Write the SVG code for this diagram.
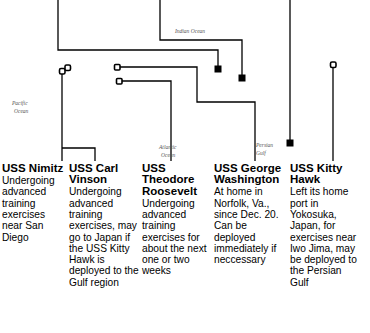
<svg xmlns="http://www.w3.org/2000/svg" width="370" height="333" viewBox="0 0 370 333">
<style>
.ln{fill:none;stroke:#000;stroke-width:1.3}
.op{fill:#fff;stroke:#000;stroke-width:1.6}
.fl{fill:#000}
.lb{font-family:"Liberation Serif",serif;font-style:italic;font-size:5.5px;fill:#555}
.t{font-family:"Liberation Sans",Arial,sans-serif;font-weight:bold;font-size:11.5px;fill:#000}
.b{font-family:"Liberation Sans",Arial,sans-serif;font-size:10.2px;fill:#000}
</style>
<rect width="370" height="333" fill="#fff"/>
<g id="connectors">
<path class="ln" d="M58,0 V50 H218 V66"/>
<path class="ln" d="M160,0 V40 H242 V75"/>
<path class="ln" d="M290,0 V140"/>
<path class="ln" d="M62,74 V161"/>
<path class="ln" d="M62,148 H95 V161"/>
<path class="ln" d="M122,81 H171 V161"/>
<path class="ln" d="M120,67 H197 V102 H255 V161"/>
<path class="ln" d="M333,68 V161"/>
</g>
<g id="markers">
<rect class="fl" x="214.5" y="65.5" width="7" height="7"/>
<rect class="fl" x="238.5" y="74.5" width="7" height="7"/>
<rect class="fl" x="286.5" y="139.5" width="7" height="7"/>
<rect class="op" x="59.5" y="68.5" width="5.5" height="5.5" rx="1.5"/>
<rect class="op" x="65" y="65" width="5.5" height="5.5" rx="1.5"/>
<rect class="op" x="114.5" y="64.5" width="5.5" height="5.5" rx="1"/>
<rect class="op" x="116.5" y="78.5" width="5.5" height="5.5" rx="1"/>
<rect class="op" x="330.5" y="62" width="5.5" height="5.5" rx="1.5"/>
</g>
<g id="labels">
<text class="lb" x="175" y="33">Indian Ocean</text>
<text class="lb" x="12" y="105">Pacific</text>
<text class="lb" x="14" y="113">Ocean</text>
<text class="lb" x="159" y="149">Atlantic</text>
<text class="lb" x="161" y="157">Ocean</text>
<text class="lb" x="256" y="147">Persian</text>
<text class="lb" x="256" y="155">Gulf</text>
</g>
<g id="nimitz">
<text class="t" x="2" y="172">USS Nimitz</text>
<text class="b" x="2" y="184">Undergoing</text>
<text class="b" x="2" y="195.3">advanced</text>
<text class="b" x="2" y="206.6">training</text>
<text class="b" x="2" y="217.9">exercises</text>
<text class="b" x="2" y="229.2">near San</text>
<text class="b" x="2" y="240.5">Diego</text>
</g>
<g id="vinson">
<text class="t" x="69" y="172">USS Carl</text>
<text class="t" x="69" y="183.3">Vinson</text>
<text class="b" x="69" y="195.3">Undergoing</text>
<text class="b" x="69" y="206.6">advanced</text>
<text class="b" x="69" y="217.9">training</text>
<text class="b" x="69" y="229.2">exercises, may</text>
<text class="b" x="69" y="240.5">go to Japan if</text>
<text class="b" x="69" y="251.8">the USS Kitty</text>
<text class="b" x="69" y="263.1">Hawk is</text>
<text class="b" x="69" y="274.4">deployed to the</text>
<text class="b" x="69" y="285.7">Gulf region</text>
</g>
<g id="roosevelt">
<text class="t" x="142" y="172">USS</text>
<text class="t" x="142" y="183.3">Theodore</text>
<text class="t" x="142" y="194.6">Roosevelt</text>
<text class="b" x="142" y="206.6">Undergoing</text>
<text class="b" x="142" y="217.9">advanced</text>
<text class="b" x="142" y="229.2">training</text>
<text class="b" x="142" y="240.5">exercises for</text>
<text class="b" x="142" y="251.8">about the next</text>
<text class="b" x="142" y="263.1">one or two</text>
<text class="b" x="142" y="274.4">weeks</text>
</g>
<g id="washington">
<text class="t" x="214" y="172">USS George</text>
<text class="t" x="214" y="183.3">Washington</text>
<text class="b" x="214" y="195.3">At home in</text>
<text class="b" x="214" y="206.6">Norfolk, Va.,</text>
<text class="b" x="214" y="217.9">since Dec. 20.</text>
<text class="b" x="214" y="229.2">Can be</text>
<text class="b" x="214" y="240.5">deployed</text>
<text class="b" x="214" y="251.8">immediately if</text>
<text class="b" x="214" y="263.1">neccessary</text>
</g>
<g id="kittyhawk">
<text class="t" x="290" y="172">USS Kitty</text>
<text class="t" x="290" y="183.3">Hawk</text>
<text class="b" x="290" y="195.3">Left its home</text>
<text class="b" x="290" y="206.6">port in</text>
<text class="b" x="290" y="217.9">Yokosuka,</text>
<text class="b" x="290" y="229.2">Japan, for</text>
<text class="b" x="290" y="240.5">exercises near</text>
<text class="b" x="290" y="251.8">Iwo Jima, may</text>
<text class="b" x="290" y="263.1">be deployed to</text>
<text class="b" x="290" y="274.4">the Persian</text>
<text class="b" x="290" y="285.7">Gulf</text>
</g>
</svg>
